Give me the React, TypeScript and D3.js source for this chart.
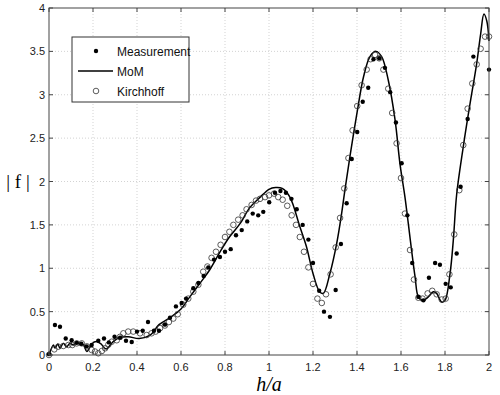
import React, { useEffect, useRef } from "react";
import * as d3 from "d3";

// MoM curve (h/a, |f|)
const momX = [0, 0.02, 0.027, 0.04, 0.05, 0.065, 0.08, 0.095, 0.11, 0.126, 0.141, 0.156, 0.172, 0.195, 0.215, 0.235, 0.26, 0.29, 0.32, 0.36, 0.41, 0.46, 0.5, 0.55, 0.6, 0.64, 0.69, 0.73, 0.78, 0.82, 0.87, 0.91, 0.96, 1.0, 1.03, 1.06, 1.095, 1.14, 1.17, 1.2, 1.23, 1.247, 1.277, 1.308, 1.33, 1.345, 1.368, 1.4, 1.43, 1.459, 1.486, 1.512, 1.542, 1.573, 1.595, 1.618, 1.633, 1.648, 1.664, 1.679, 1.7, 1.724, 1.747, 1.762, 1.785, 1.8, 1.823, 1.838, 1.853, 1.883, 1.914, 1.944, 1.962, 1.977, 1.99, 2.0];
const momY = [0, 0.115, 0.08, 0.127, 0.077, 0.134, 0.096, 0.134, 0.115, 0.146, 0.12, 0.12, 0.04, 0.13, 0.155, 0.13, 0.07, 0.15, 0.2, 0.21, 0.19, 0.23, 0.35, 0.43, 0.53, 0.67, 0.84, 0.98, 1.2, 1.36, 1.52, 1.69, 1.82, 1.91, 1.93, 1.92, 1.82, 1.48, 1.25, 0.94, 0.73, 0.71, 0.94, 1.29, 1.63, 1.9, 2.29, 2.79, 3.21, 3.44, 3.5, 3.44, 3.17, 2.71, 2.21, 1.82, 1.52, 1.21, 0.9, 0.67, 0.63, 0.67, 0.73, 0.71, 0.61, 0.63, 0.94, 1.33, 1.85, 2.4, 2.9, 3.36, 3.7, 3.93, 3.85, 3.62];

// Kirchhoff (open circles)
const kirX = [0.0, 0.024, 0.042, 0.065, 0.088, 0.106, 0.126, 0.149, 0.172, 0.194, 0.209, 0.224, 0.24, 0.255, 0.27, 0.285, 0.308, 0.323, 0.338, 0.36, 0.383, 0.414, 0.444, 0.466, 0.485, 0.505, 0.527, 0.545, 0.565, 0.585, 0.61, 0.633, 0.656, 0.679, 0.701, 0.72, 0.739, 0.759, 0.78, 0.8, 0.82, 0.838, 0.86, 0.88, 0.898, 0.921, 0.941, 0.959, 0.982, 1.0, 1.023, 1.042, 1.062, 1.083, 1.103, 1.123, 1.14, 1.159, 1.179, 1.2, 1.22, 1.24, 1.259, 1.28, 1.303, 1.323, 1.342, 1.361, 1.38, 1.401, 1.421, 1.444, 1.462, 1.482, 1.501, 1.52, 1.542, 1.56, 1.58, 1.6, 1.618, 1.641, 1.659, 1.679, 1.698, 1.721, 1.742, 1.762, 1.785, 1.803, 1.82, 1.842, 1.865, 1.883, 1.903, 1.924, 1.944, 1.962, 1.982, 2.0];
const kirY = [0.0, 0.065, 0.096, 0.104, 0.115, 0.115, 0.134, 0.134, 0.1, 0.058, 0.04, 0.02, 0.046, 0.077, 0.12, 0.153, 0.17, 0.21, 0.25, 0.27, 0.27, 0.25, 0.23, 0.25, 0.27, 0.31, 0.34, 0.38, 0.42, 0.47, 0.58, 0.65, 0.73, 0.81, 0.96, 1.02, 1.12, 1.19, 1.27, 1.36, 1.42, 1.5, 1.56, 1.61, 1.68, 1.73, 1.78, 1.8, 1.82, 1.84, 1.86, 1.82, 1.79, 1.72, 1.61, 1.5, 1.36, 1.19, 1.01, 0.82, 0.65, 0.6, 0.7, 0.93, 1.24, 1.58, 1.92, 2.27, 2.59, 2.87, 3.11, 3.29, 3.41, 3.46, 3.42, 3.29, 3.07, 2.79, 2.44, 2.04, 1.63, 1.21, 0.87, 0.66, 0.65, 0.71, 0.74, 0.7, 0.64, 0.65, 0.93, 1.39, 1.9, 2.42, 2.84, 3.13, 3.35, 3.53, 3.67, 3.67];

// Measurement (filled dots)
const measX = [0.0, 0.027, 0.05, 0.076, 0.103, 0.126, 0.147, 0.171, 0.194, 0.224, 0.25, 0.272, 0.298, 0.323, 0.35, 0.376, 0.4, 0.426, 0.45, 0.477, 0.5, 0.527, 0.55, 0.577, 0.603, 0.623, 0.656, 0.679, 0.703, 0.724, 0.75, 0.777, 0.8, 0.826, 0.85, 0.876, 0.901, 0.926, 0.951, 0.974, 1.001, 1.027, 1.052, 1.077, 1.102, 1.126, 1.153, 1.179, 1.2, 1.228, 1.25, 1.277, 1.303, 1.327, 1.353, 1.376, 1.401, 1.426, 1.451, 1.475, 1.501, 1.527, 1.551, 1.577, 1.603, 1.629, 1.651, 1.679, 1.702, 1.727, 1.755, 1.777, 1.803, 1.826, 1.853, 1.871, 1.903, 1.929, 2.0];
const measY = [0.01, 0.345, 0.325, 0.19, 0.17, 0.14, 0.13, 0.1, 0.115, 0.165, 0.19, 0.145, 0.21, 0.2, 0.165, 0.15, 0.27, 0.28, 0.38, 0.28, 0.28, 0.35, 0.43, 0.56, 0.6, 0.65, 0.77, 0.83, 0.91, 1.01, 1.1, 1.13, 1.19, 1.22, 1.38, 1.44, 1.54, 1.63, 1.61, 1.65, 1.76, 1.87, 1.89, 1.87, 1.8, 1.68, 1.5, 1.33, 1.06, 0.74, 0.5, 0.44, 0.75, 1.28, 1.75, 2.26, 2.57, 2.92, 3.08, 3.41, 3.42, 3.31, 3.03, 2.68, 2.21, 1.61, 1.06, 0.67, 0.63, 0.89, 1.06, 1.04, 0.82, 0.78, 1.17, 1.94, 2.72, 3.44, 3.29];

const xTicks = [0, 0.2, 0.4, 0.6, 0.8, 1, 1.2, 1.4, 1.6, 1.8, 2];
const yTicks = [0, 0.5, 1, 1.5, 2, 2.5, 3, 3.5, 4];
const legendLabels = ["Measurement", "MoM", "Kirchhoff"];

const W = 500;
const H = 395;
const L = 49;
const R = 489;
const T = 8;
const B = 355;

const App: React.FC = () => {
  const svgRef = useRef<SVGSVGElement>(null);

  useEffect(() => {
    const svg = d3.select(svgRef.current);
    svg.selectAll("*").remove();

    const x = d3.scaleLinear().domain([0, 2]).range([L, R]);
    const y = d3.scaleLinear().domain([0, 4]).range([B, T]);
    const font = "Liberation Sans, Arial, sans-serif";

    svg.append("rect").attr("width", W).attr("height", H).attr("fill", "#fff");

    // grid
    const grid = svg.append("g").attr("stroke", "#c8c8c8").attr("stroke-width", 0.8).attr("stroke-dasharray", "1,2");
    xTicks.slice(1, -1).forEach((t) => {
      grid.append("line").attr("x1", x(t)).attr("x2", x(t)).attr("y1", T).attr("y2", B);
    });
    yTicks.slice(1, -1).forEach((t) => {
      grid.append("line").attr("x1", L).attr("x2", R).attr("y1", y(t)).attr("y2", y(t));
    });

    // MoM line
    const line = d3.line<number>()
      .x((d, i) => x(momX[i]))
      .y((d) => y(d))
      .curve(d3.curveCatmullRom.alpha(0.5));
    svg.append("path")
      .attr("d", line(momY)!)
      .attr("fill", "none")
      .attr("stroke", "#000")
      .attr("stroke-width", 1.5);

    // Kirchhoff circles
    svg.append("g").selectAll("circle")
      .data(kirY)
      .join("circle")
      .attr("cx", (d, i) => x(kirX[i]))
      .attr("cy", (d) => y(d))
      .attr("r", 2.8)
      .attr("fill", "none")
      .attr("stroke", "#333")
      .attr("stroke-width", 0.8);

    // Measurement dots
    svg.append("g").selectAll("circle")
      .data(measY)
      .join("circle")
      .attr("cx", (d, i) => x(measX[i]))
      .attr("cy", (d) => y(d))
      .attr("r", 2.2)
      .attr("fill", "#000");

    // box
    svg.append("rect")
      .attr("x", L).attr("y", T).attr("width", R - L).attr("height", B - T)
      .attr("fill", "none").attr("stroke", "#444").attr("stroke-width", 1);

    // ticks + labels
    const tk = svg.append("g").attr("stroke", "#444").attr("stroke-width", 1);
    xTicks.forEach((t) => {
      tk.append("line").attr("x1", x(t)).attr("x2", x(t)).attr("y1", B).attr("y2", B - 4);
      tk.append("line").attr("x1", x(t)).attr("x2", x(t)).attr("y1", T).attr("y2", T + 4);
    });
    yTicks.forEach((t) => {
      tk.append("line").attr("x1", L).attr("x2", L + 4).attr("y1", y(t)).attr("y2", y(t));
      tk.append("line").attr("x1", R).attr("x2", R - 4).attr("y1", y(t)).attr("y2", y(t));
    });
    svg.append("g").selectAll("text")
      .data(xTicks)
      .join("text")
      .attr("x", (d) => x(d))
      .attr("y", 371)
      .attr("text-anchor", "middle")
      .attr("font-family", font)
      .attr("font-size", 11)
      .attr("fill", "#222")
      .text((d) => String(d));
    svg.append("g").selectAll("text")
      .data(yTicks)
      .join("text")
      .attr("x", 45)
      .attr("y", (d) => y(d) + 4)
      .attr("text-anchor", "end")
      .attr("font-family", font)
      .attr("font-size", 11)
      .attr("fill", "#222")
      .text((d) => String(d));

    // axis labels
    svg.append("text")
      .attr("x", 269).attr("y", 391)
      .attr("text-anchor", "middle")
      .attr("font-family", "Liberation Serif, Times New Roman, serif")
      .attr("font-style", "italic")
      .attr("font-size", 20)
      .text("h/a");
    svg.append("text")
      .attr("x", 18).attr("y", 188)
      .attr("text-anchor", "middle")
      .attr("font-family", "Liberation Serif, Times New Roman, serif")
      .attr("font-size", 19)
      .text("| f |");

    // legend
    const lg = svg.append("g");
    lg.append("rect")
      .attr("x", 72).attr("y", 37).attr("width", 117).attr("height", 65)
      .attr("fill", "#fff").attr("stroke", "#333").attr("stroke-width", 1);
    const rows = [51, 71, 91];
    lg.append("circle").attr("cx", 96).attr("cy", rows[0]).attr("r", 2.2).attr("fill", "#000");
    lg.append("line").attr("x1", 78).attr("x2", 113).attr("y1", rows[1]).attr("y2", rows[1])
      .attr("stroke", "#000").attr("stroke-width", 1.5);
    lg.append("circle").attr("cx", 96).attr("cy", rows[2]).attr("r", 2.8)
      .attr("fill", "none").attr("stroke", "#333").attr("stroke-width", 0.8);
    legendLabels.forEach((s, i) => {
      lg.append("text")
        .attr("x", 117).attr("y", rows[i] + 4.5)
        .attr("font-family", font)
        .attr("font-size", 12)
        .attr("fill", "#111")
        .text(s);
    });
  }, []);

  return (
    <svg
      ref={svgRef}
      width={W}
      height={H}
      style={{ position: "absolute", left: 0, top: 0 }}
    ></svg>
  );
};

export default App;
